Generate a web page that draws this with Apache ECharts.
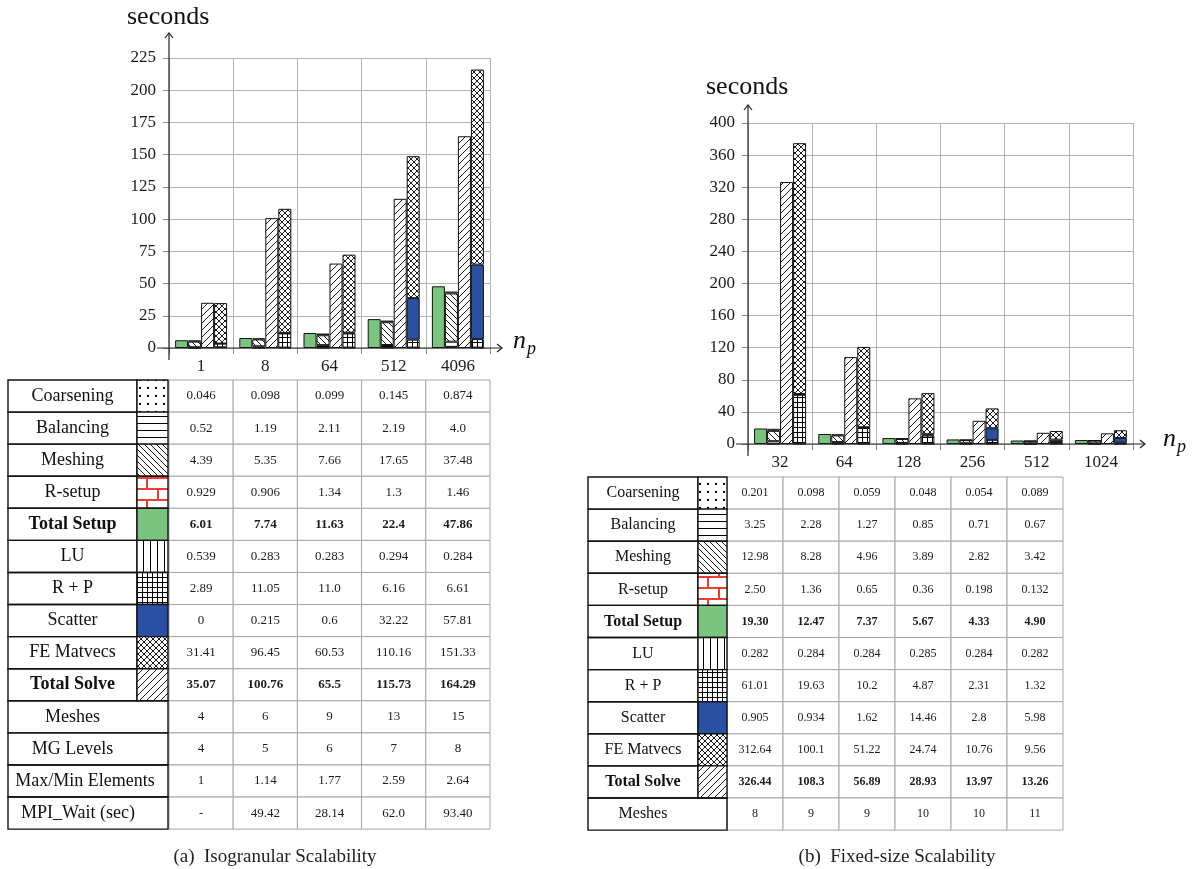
<!DOCTYPE html>
<html>
<head>
<meta charset="utf-8">
<script src="https://cdn.jsdelivr.net/npm/echarts@6/dist/echarts.min.js"></script>
<style>
html, body { margin: 0; padding: 0; background: #fff; }
#chart { width: 1193px; height: 869px; }
</style>
</head>
<body>
<div id="chart"></div>
<script>
// ---- (a) Isogranular scalability: timings in seconds per processor count ----
const isoProcs = ['1', '8', '64', '512', '4096'];
const isoCoarsening = ['0.046', '0.098', '0.099', '0.145', '0.874'];
const isoBalancing = ['0.52', '1.19', '2.11', '2.19', '4.0'];
const isoMeshing = ['4.39', '5.35', '7.66', '17.65', '37.48'];
const isoRSetup = ['0.929', '0.906', '1.34', '1.3', '1.46'];
const isoTotalSetup = ['6.01', '7.74', '11.63', '22.4', '47.86'];
const isoLU = ['0.539', '0.283', '0.283', '0.294', '0.284'];
const isoRP = ['2.89', '11.05', '11.0', '6.16', '6.61'];
const isoScatter = ['0', '0.215', '0.6', '32.22', '57.81'];
const isoFEMatvecs = ['31.41', '96.45', '60.53', '110.16', '151.33'];
const isoTotalSolve = ['35.07', '100.76', '65.5', '115.73', '164.29'];
const isoMeshes = ['4', '6', '9', '13', '15'];
const isoMGLevels = ['4', '5', '6', '7', '8'];
const isoMaxMinElements = ['1', '1.14', '1.77', '2.59', '2.64'];
const isoMPIWait = ['-', '49.42', '28.14', '62.0', '93.40'];

// ---- (b) Fixed-size scalability ----
const fixedProcs = ['32', '64', '128', '256', '512', '1024'];
const fixedCoarsening = ['0.201', '0.098', '0.059', '0.048', '0.054', '0.089'];
const fixedBalancing = ['3.25', '2.28', '1.27', '0.85', '0.71', '0.67'];
const fixedMeshing = ['12.98', '8.28', '4.96', '3.89', '2.82', '3.42'];
const fixedRSetup = ['2.50', '1.36', '0.65', '0.36', '0.198', '0.132'];
const fixedTotalSetup = ['19.30', '12.47', '7.37', '5.67', '4.33', '4.90'];
const fixedLU = ['0.282', '0.284', '0.284', '0.285', '0.284', '0.282'];
const fixedRP = ['61.01', '19.63', '10.2', '4.87', '2.31', '1.32'];
const fixedScatter = ['0.905', '0.934', '1.62', '14.46', '2.8', '5.98'];
const fixedFEMatvecs = ['312.64', '100.1', '51.22', '24.74', '10.76', '9.56'];
const fixedTotalSolve = ['326.44', '108.3', '56.89', '28.93', '13.97', '13.26'];
const fixedMeshes = ['8', '9', '9', '10', '10', '11'];

// ---- axis scales ----
const isoYMax = 225, isoYStep = 25;
const fixedYMax = 400, fixedYStep = 40;

// ---- row labels of the tables ----
const rowCoarsening = 'Coarsening';
const rowBalancing = 'Balancing';
const rowMeshing = 'Meshing';
const rowRSetup = 'R-setup';
const rowTotalSetup = 'Total Setup';
const rowLU = 'LU';
const rowRP = 'R + P';
const rowScatter = 'Scatter';
const rowFEMatvecs = 'FE Matvecs';
const rowTotalSolve = 'Total Solve';
const rowMeshes = 'Meshes';
const rowMGLevels = 'MG Levels';
const rowMaxMin = 'Max/Min Elements';
const rowMPIWait = 'MPI_Wait (sec)';

const yAxisTitle = 'seconds';
const captionA = '(a)  Isogranular Scalability';
const captionB = '(b)  Fixed-size Scalability';

// ---------------------------------------------------------------
const SERIF = '"Liberation Serif", "Times New Roman", Times, serif';
const GREEN = '#7bc47f';
const BLUE = '#2b4fa2';
const RED = '#ee3b33';
const GRID_GRAY = '#b4b4b4';
const INK = '#111';

// Fill patterns drawn on small repeating canvas tiles
function tile(w, h, draw) {
  const c = document.createElement('canvas');
  c.width = w; c.height = h;
  const g = c.getContext('2d');
  g.fillStyle = '#fff';
  g.fillRect(0, 0, w, h);
  g.fillStyle = '#000';
  g.strokeStyle = '#000';
  g.lineWidth = 0.9;
  draw(g, w, h);
  return { image: c, repeat: 'repeat' };
}
function diagTile(s, forward) {
  return tile(s, s, g => {
    g.beginPath();
    if (forward) {
      g.moveTo(-1, s + 1); g.lineTo(s + 1, -1);
      g.moveTo(-1, 1); g.lineTo(1, -1);
      g.moveTo(s - 1, s + 1); g.lineTo(s + 1, s - 1);
    } else {
      g.moveTo(-1, -1); g.lineTo(s + 1, s + 1);
      g.moveTo(s - 1, -1); g.lineTo(s + 1, 1);
      g.moveTo(-1, s - 1); g.lineTo(1, s + 1);
    }
    g.stroke();
  });
}
const P = {
  dots: tile(8, 8, g => { g.beginPath(); g.arc(4, 4, 1.15, 0, Math.PI * 2); g.fill(); }),
  hlines: tile(6, 7, g => { g.fillRect(0, 3, 6, 1); }),
  vlines: tile(7, 6, g => { g.fillRect(3, 0, 1, 6); }),
  grid: tile(5, 5, g => { g.fillRect(0, 2, 5, 1); g.fillRect(2, 0, 1, 5); }),
  fdiag: diagTile(7, true),
  bdiag: diagTile(6, false),
  cross: tile(6, 6, g => {
    g.beginPath();
    g.moveTo(-1, -1); g.lineTo(7, 7);
    g.moveTo(-1, 7); g.lineTo(7, -1);
    g.stroke();
  }),
  bricks: tile(22, 22, g => {
    g.fillStyle = RED;
    g.fillRect(0, 4, 22, 2);
    g.fillRect(0, 15, 22, 2);
    g.fillRect(3, 4, 2, 11);
    g.fillRect(14, 15, 2, 11);
    g.fillRect(14, 0, 2, 4);
  }),
  green: GREEN,
  blue: BLUE
};

// Panel definitions: grid boxes plus table geometry
const panels = [
  {
    procs: isoProcs, yMax: isoYMax, yStep: isoYStep,
    grid: { left: 169, top: 58, width: 321, height: 290 },
    axisTopExtra: 25,
    setup: [[rowCoarsening, isoCoarsening, P.dots], [rowBalancing, isoBalancing, P.hlines],
            [rowMeshing, isoMeshing, P.bdiag], [rowRSetup, isoRSetup, P.bricks]],
    totalSetup: isoTotalSetup,
    solve: [[rowLU, isoLU, P.vlines], [rowRP, isoRP, P.grid],
            [rowScatter, isoScatter, P.blue], [rowFEMatvecs, isoFEMatvecs, P.cross]],
    totalSolve: isoTotalSolve,
    // [label, values, label centre x (null = centre of label column)]
    extraRows: [[rowMeshes, isoMeshes, null], [rowMGLevels, isoMGLevels, null],
                [rowMaxMin, isoMaxMinElements, 85], [rowMPIWait, isoMPIWait, 78]],
    title: { x: 127, y: 17 },
    np: { x: 513, y: 341 },
    table: { left: 8, labelW: 129, keyW: 31, top: 380, rowH: 32.08,
             labelFont: '18px ' + SERIF, dataFont: '13px ' + SERIF },
    caption: { text: captionA, x: 275, y: 857 }
  },
  {
    procs: fixedProcs, yMax: fixedYMax, yStep: fixedYStep,
    grid: { left: 748, top: 123, width: 385, height: 321 },
    axisTopExtra: 18,
    setup: [[rowCoarsening, fixedCoarsening, P.dots], [rowBalancing, fixedBalancing, P.hlines],
            [rowMeshing, fixedMeshing, P.bdiag], [rowRSetup, fixedRSetup, P.bricks]],
    totalSetup: fixedTotalSetup,
    solve: [[rowLU, fixedLU, P.vlines], [rowRP, fixedRP, P.grid],
            [rowScatter, fixedScatter, P.blue], [rowFEMatvecs, fixedFEMatvecs, P.cross]],
    totalSolve: fixedTotalSolve,
    extraRows: [[rowMeshes, fixedMeshes, null]],
    title: { x: 706, y: 87 },
    np: { x: 1163, y: 439 },
    table: { left: 588, labelW: 110, keyW: 29, top: 477, rowH: 32.1, colW: 56,
             labelFont: '16px ' + SERIF, dataFont: '12px ' + SERIF },
    caption: { text: captionB, x: 897, y: 857 }
  }
];

const chart = echarts.init(document.getElementById('chart'), null, { renderer: 'canvas', width: 1193, height: 869 });

const grids = [], xAxes = [], yAxes = [], series = [], graphics = [];

const barBase = { type: 'bar', barWidth: 13, barGap: '0%', silent: true };

panels.forEach((p, i) => {
  grids.push(Object.assign({ containLabel: false }, p.grid));
  xAxes.push({
    type: 'category', gridIndex: i, data: p.procs,
    axisLine: { show: false },
    axisTick: { show: true, length: 6, lineStyle: { color: '#8a8a8a' } },
    axisLabel: { margin: 10, fontFamily: SERIF, fontSize: 17, color: '#1a1a1a' },
    splitLine: { show: true, lineStyle: { color: GRID_GRAY, width: 1 } }
  });
  yAxes.push({
    type: 'value', gridIndex: i, min: 0, max: p.yMax, interval: p.yStep,
    axisLine: { show: false },
    axisTick: { show: true, length: 6, lineStyle: { color: '#8a8a8a' } },
    axisLabel: { margin: 13, fontFamily: SERIF, fontSize: 17, color: '#1a1a1a' },
    splitLine: { show: true, lineStyle: { color: GRID_GRAY, width: 1 } }
  });

  const on = { xAxisIndex: i, yAxisIndex: i };
  series.push(Object.assign({}, barBase, on, {
    name: rowTotalSetup, data: p.totalSetup.map(Number),
    itemStyle: { color: GREEN, borderColor: INK, borderWidth: 1 }
  }));
  p.setup.forEach(([name, vals, fill]) => series.push(Object.assign({}, barBase, on, {
    name, stack: 'setup' + i, data: vals.map(Number),
    itemStyle: { color: fill, borderColor: INK, borderWidth: 1 }
  })));
  series.push(Object.assign({}, barBase, on, {
    name: rowTotalSolve, data: p.totalSolve.map(Number),
    itemStyle: { color: P.fdiag, borderColor: INK, borderWidth: 1 }
  }));
  p.solve.forEach(([name, vals, fill]) => series.push(Object.assign({}, barBase, on, {
    name, stack: 'solve' + i, data: vals.map(Number),
    itemStyle: { color: fill, borderColor: INK, borderWidth: 1 }
  })));

  // axis lines with open arrow heads, crossing at the origin
  const g = p.grid;
  const ox = g.left, oy = g.top + g.height;
  const yTop = g.top - p.axisTopExtra;
  const xEnd = g.left + g.width + 12;
  const axisStyle = { stroke: '#222', lineWidth: 1.2, fill: null };
  graphics.push({ type: 'line', z: 50, shape: { x1: ox, y1: oy + 12, x2: ox, y2: yTop }, style: axisStyle });
  graphics.push({ type: 'line', z: 50, shape: { x1: ox - 12, y1: oy, x2: xEnd, y2: oy }, style: axisStyle });
  graphics.push({ type: 'polyline', z: 50, shape: { points: [[ox - 4, yTop + 5], [ox, yTop], [ox + 4, yTop + 5]] }, style: axisStyle });
  graphics.push({ type: 'polyline', z: 50, shape: { points: [[xEnd - 5, oy - 4], [xEnd, oy], [xEnd - 5, oy + 4]] }, style: axisStyle });

  // axis titles
  graphics.push({ type: 'text', z: 50, x: p.title.x, y: p.title.y,
    style: { text: yAxisTitle, font: '26px ' + SERIF, fill: INK, align: 'left', verticalAlign: 'middle' } });
  graphics.push({ type: 'text', z: 50, x: p.np.x, y: p.np.y,
    style: { text: 'n', font: 'italic 26px ' + SERIF, fill: INK, align: 'left', verticalAlign: 'middle' } });
  graphics.push({ type: 'text', z: 50, x: p.np.x + 14, y: p.np.y + 8,
    style: { text: 'p', font: 'italic 18px ' + SERIF, fill: INK, align: 'left', verticalAlign: 'middle' } });

  // data table under the chart
  const t = p.table;
  const colW = t.colW || g.width / p.procs.length;
  const dataLeft = t.colW ? t.left + t.labelW + t.keyW : g.left;
  const keyed = p.setup.concat([[rowTotalSetup, p.totalSetup, P.green, true]])
    .concat(p.solve).concat([[rowTotalSolve, p.totalSolve, P.fdiag, true]]);
  const rows = keyed.map(([label, vals, key, bold]) => ({ label, vals, key, bold: !!bold, cx: null }))
    .concat(p.extraRows.map(([label, vals, cx]) => ({ label, vals, key: null, bold: false, cx })));

  rows.forEach((row, r) => {
    const y = t.top + r * t.rowH;
    row.vals.forEach((v, c) => {
      const x = dataLeft + c * colW;
      graphics.push({ type: 'rect', z: 40, shape: { x, y, width: colW, height: t.rowH },
        style: { fill: '#fff', stroke: '#a6a6a6', lineWidth: 1 } });
      graphics.push({ type: 'text', z: 45, x: x + colW / 2, y: y + t.rowH / 2,
        style: { text: v, font: (row.bold ? 'bold ' : '') + t.dataFont, fill: '#1c1c1c',
                 align: 'center', verticalAlign: 'middle' } });
    });
  });
  rows.forEach((row, r) => {
    const y = t.top + r * t.rowH;
    const w = row.key ? t.labelW : t.labelW + t.keyW;
    graphics.push({ type: 'rect', z: 42, shape: { x: t.left, y, width: w, height: t.rowH },
      style: { fill: null, stroke: INK, lineWidth: 1.4 } });
    if (row.key) {
      graphics.push({ type: 'rect', z: 42, shape: { x: t.left + t.labelW, y, width: t.keyW, height: t.rowH },
        style: { fill: row.key, stroke: INK, lineWidth: 1.4 } });
    }
    graphics.push({ type: 'text', z: 45, x: row.cx != null ? row.cx : t.left + t.labelW / 2, y: y + t.rowH / 2,
      style: { text: row.label, font: (row.bold ? 'bold ' : '') + t.labelFont, fill: INK,
               align: 'center', verticalAlign: 'middle' } });
  });

  graphics.push({ type: 'text', z: 50, x: p.caption.x, y: p.caption.y,
    style: { text: p.caption.text, font: '19px ' + SERIF, fill: '#222', align: 'center', verticalAlign: 'middle' } });
});

chart.setOption({
  animation: false,
  backgroundColor: '#fff',
  grid: grids,
  xAxis: xAxes,
  yAxis: yAxes,
  series,
  graphic: graphics
});
</script>
</body>
</html>
